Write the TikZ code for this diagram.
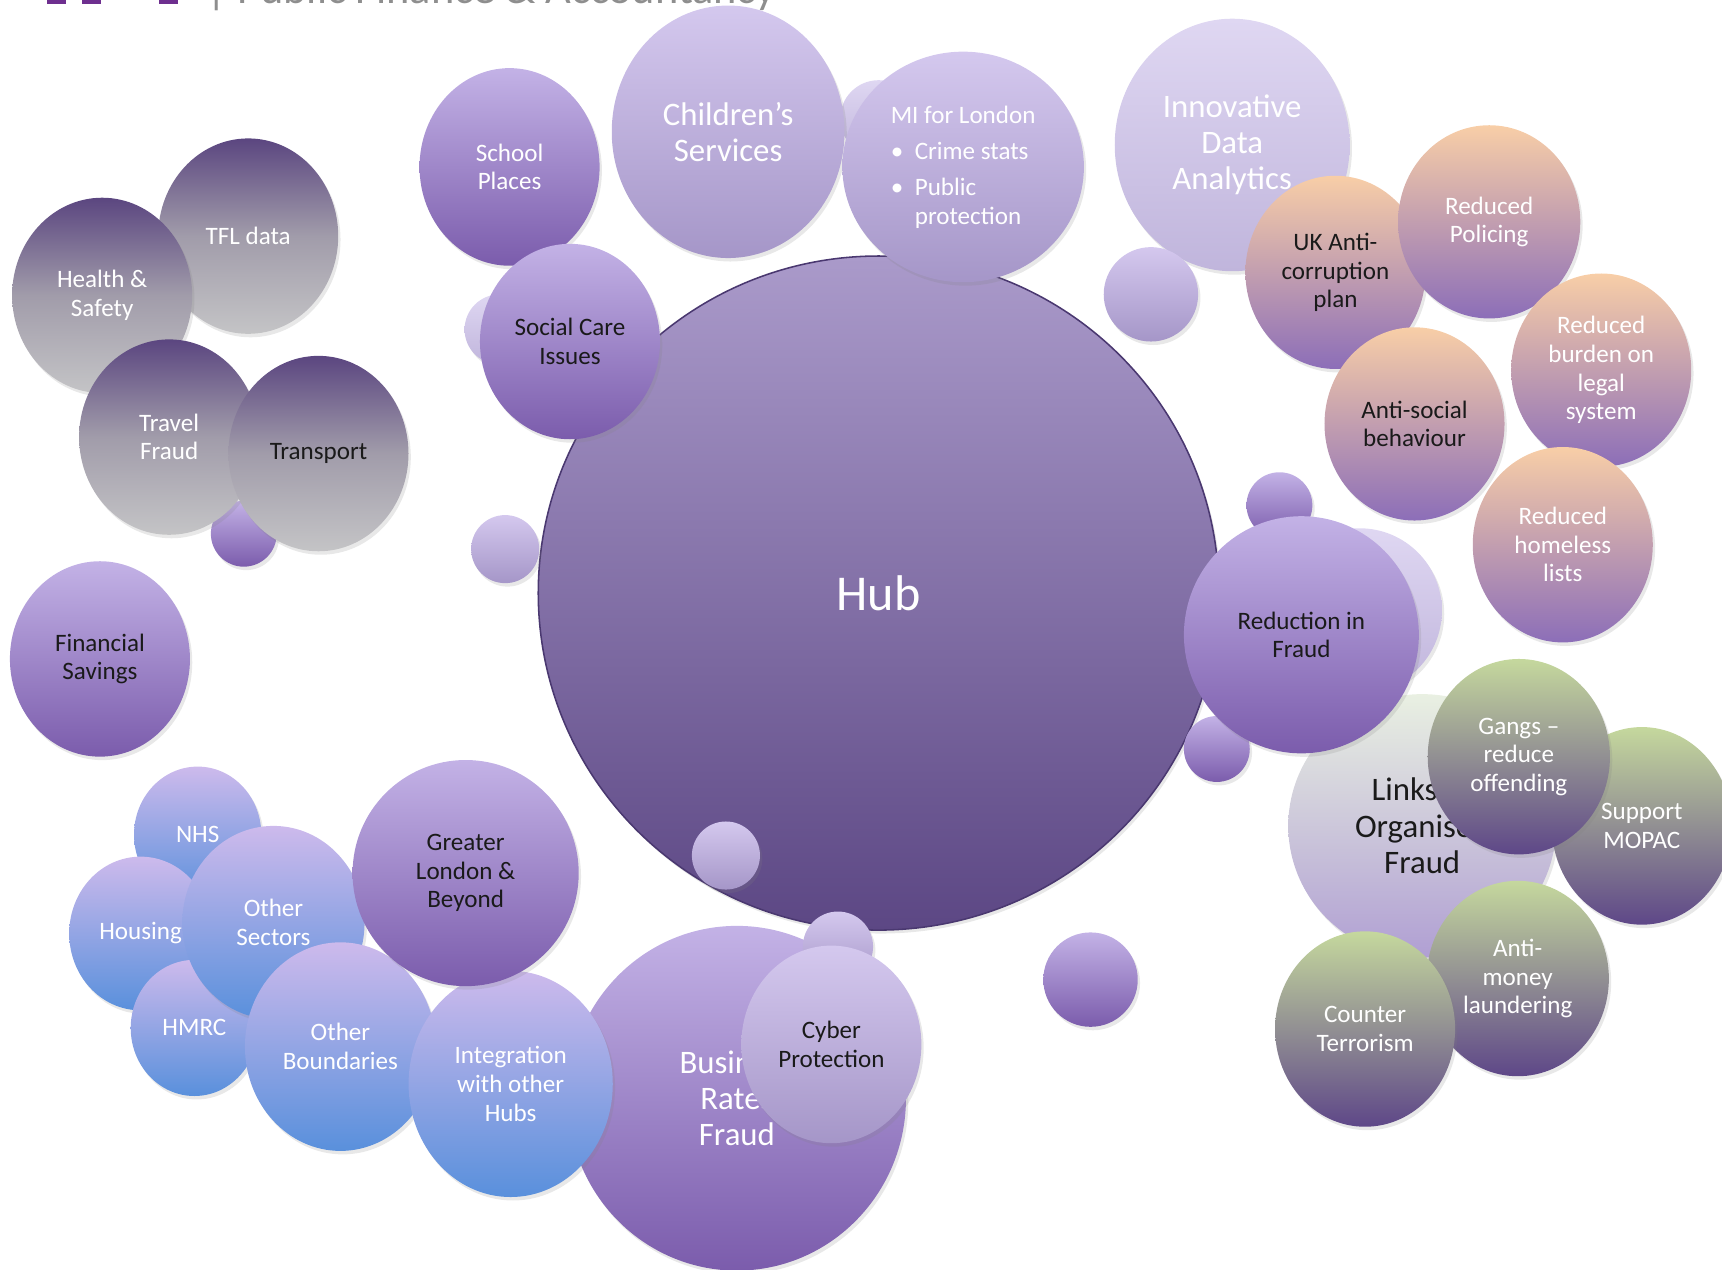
\documentclass[tikz,border=0pt]{standalone}
\usepackage{fontspec}
\setmainfont{Carlito}
\usetikzlibrary{shapes.geometric, shadows}
\definecolor{hubTop}{HTML}{AA9ACA}
\definecolor{hubBottom}{HTML}{5C4784}
\definecolor{hubLine}{HTML}{4A3870}
\definecolor{purpleTop}{HTML}{C3B2E6}
\definecolor{purpleBottom}{HTML}{7B5CAC}
\definecolor{lilacTop}{HTML}{D4C8EE}
\definecolor{lilacBottom}{HTML}{A596C8}
\definecolor{paleTop}{HTML}{DFD7F2}
\definecolor{paleBottom}{HTML}{C0B5DC}
\definecolor{peachTop}{HTML}{F8CEA7}
\definecolor{peachBottom}{HTML}{8C6EB8}
\definecolor{greenTop}{HTML}{C5D89D}
\definecolor{greenBottom}{HTML}{5E4788}
\definecolor{greyTop}{HTML}{5B4680}
\definecolor{greyMiddle}{HTML}{A19CAA}
\definecolor{greyBottom}{HTML}{C4C4C6}
\definecolor{blueTop}{HTML}{CDBAEC}
\definecolor{blueBottom}{HTML}{5990DC}
\definecolor{linksTop}{HTML}{E9F0E2}
\definecolor{linksBottom}{HTML}{B09FD3}
\definecolor{darkInk}{HTML}{1A1A1A}
\definecolor{logoPurple}{HTML}{6E2F8F}
\definecolor{headerGrey}{HTML}{8E8E8E}
\tikzstyle{diagram} = [x = 0.02cm, y = -0.02cm]
\tikzstyle{bubbleStyle} = [ellipse, inner sep = 0pt, align = center, font = \fontsize{13}{14.8}\selectfont, drop shadow = {opacity = 0.18, shadow xshift = 1.2pt, shadow yshift = -1.8pt}]
\tikzstyle{bigText} = [font = \fontsize{17}{18.8}\selectfont]
\tikzstyle{hubText} = [font = \fontsize{26}{30}\selectfont]
\tikzstyle{whiteText} = [text = white]
\tikzstyle{darkText} = [text = darkInk]
\tikzstyle{hubBubble} = [top color = hubTop, bottom color = hubBottom, draw = hubLine, line width = 0.8pt]
\tikzstyle{purpleBubble} = [top color = purpleTop, bottom color = purpleBottom]
\tikzstyle{lilacBubble} = [top color = lilacTop, bottom color = lilacBottom]
\tikzstyle{paleBubble} = [top color = paleTop, bottom color = paleBottom]
\tikzstyle{peachBubble} = [top color = peachTop, bottom color = peachBottom]
\tikzstyle{greenBubble} = [top color = greenTop, bottom color = greenBottom]
\tikzstyle{greyBubble} = [top color = greyTop, bottom color = greyBottom, middle color = greyMiddle]
\tikzstyle{blueBubble} = [top color = blueTop, bottom color = blueBottom]
\tikzstyle{linksBubble} = [top color = linksTop, bottom color = linksBottom]
\tikzstyle{headerText} = [text = headerGrey, font = \fontsize{23}{26}\selectfont, inner sep = 0pt]
\newcommand{\bubble}[6]{\node [bubbleStyle, #2, minimum width = #4 * 0.04cm, minimum height = #5 * 0.04cm] (#1) at (#3) {#6};}
\newcommand{\smallBubble}[4]{\node [bubbleStyle, #2, minimum width = #4 * 0.04cm, minimum height = #4 * 0.04cm] (#1) at (#3) {};}

\begin{document}
\begin{tikzpicture}[diagram]
  \useasboundingbox (0,0) rectangle (1568,1156);
  % cut-off page header
  \foreach \logoX in {43,75,145} {
    \fill [logoPurple] (\logoX, 0) rectangle + (17, 4);
  }
  \node [headerText, anchor = base west] (header) at (188, 3) {\textbar\ Public Finance \& Accountancy};

  % left grey group
  \bubble{tfl}{greyBubble, whiteText}{226,215}{82}{89}{TFL data}
  \bubble{health}{greyBubble, whiteText}{93,269}{82}{89}{Health \&\\Safety}
  \smallBubble{travelDot}{purpleBubble}{222,486}{30}
  \bubble{travel}{greyBubble, whiteText}{154,398}{82}{89}{Travel\\Fraud}
  \bubble{transport}{greyBubble, darkText}{290,413}{82}{89}{Transport}
  \bubble{savings}{purpleBubble, darkText}{91,600}{82}{89}{Financial\\Savings}

  % hub and top row
  \bubble{hub}{hubBubble, whiteText, hubText}{800,540}{310}{307}{Hub}
  \smallBubble{socialDot}{paleBubble}{455,300}{32}
  \bubble{school}{purpleBubble, whiteText}{464,152}{82}{90}{School\\Places}
  \bubble{social}{purpleBubble, darkText}{519,311}{82}{89}{Social Care\\Issues}
  \smallBubble{childDot}{paleBubble}{800,108}{35}
  \bubble{children}{lilacBubble, whiteText, bigText}{663,120}{106}{115}{Children's\\Services}
  \bubble{mi}{lilacBubble, whiteText, align = left}{877,152}{110}{105}{MI for London\\[4pt]
    \textbullet\hspace{6pt}Crime stats\\[4pt]
    \textbullet\hspace{6pt}Public\\
    \hphantom{\textbullet}\hspace{6pt}protection}
  \bubble{innovative}{paleBubble, whiteText, bigText}{1122,132}{107}{115}{Innovative\\Data\\Analytics}
  \smallBubble{dataDot}{lilacBubble}{1048,268}{43}

  % outcomes
  \bubble{corruption}{peachBubble, darkText}{1216,248}{82}{88}{UK Anti-\\corruption\\plan}
  \bubble{policing}{peachBubble, whiteText}{1356,202}{83}{88}{Reduced\\Policing}
  \bubble{burden}{peachBubble, whiteText}{1458,337}{82}{88}{Reduced\\burden on\\legal\\system}
  \bubble{antisocial}{peachBubble, darkText}{1288,386}{82}{88}{Anti-social\\behaviour}
  \bubble{homeless}{peachBubble, whiteText}{1423,496}{82}{89}{Reduced\\homeless\\lists}

  % fraud cluster
  \smallBubble{fraudDotA}{purpleBubble}{1165,460}{30}
  \smallBubble{fraudShade}{paleBubble}{1238,556}{75}
  \bubble{links}{linksBubble, darkText, bigText}{1295,752}{122}{120}{Links to\\Organised\\Fraud}
  \smallBubble{fraudDotB}{purpleBubble}{1108,682}{30}
  \bubble{reduction}{purpleBubble, darkText}{1185,578}{107}{108}{Reduction in\\Fraud}
  \bubble{mopac}{greenBubble, whiteText}{1495,752}{82}{90}{Support\\MOPAC}
  \bubble{gangs}{greenBubble, whiteText}{1383,689}{83}{89}{Gangs --\\reduce\\offending}
  \bubble{laundering}{greenBubble, whiteText}{1382,891}{83}{89}{Anti-\\money\\laundering}
  \bubble{terrorism}{greenBubble, whiteText}{1243,937}{82}{89}{Counter\\Terrorism}

  \smallBubble{hubDotA}{lilacBubble}{661,779}{31}
  \smallBubble{hubDotB}{purpleBubble}{993,892}{43}
  \smallBubble{leftDot}{lilacBubble}{460,500}{31}

  % bottom group
  \bubble{nhs}{blueBubble, whiteText}{180,760}{58}{62}{NHS}
  \bubble{housing}{blueBubble, whiteText}{128,850}{65}{70}{Housing}
  \bubble{hmrc}{blueBubble, whiteText}{177,936}{58}{62}{HMRC}
  \bubble{sectors}{blueBubble, whiteText}{249,840}{83}{88}{Other\\Sectors}
  \bubble{boundaries}{blueBubble, whiteText}{310,953}{87}{95}{Other\\Boundaries}
  \bubble{business}{purpleBubble, whiteText, bigText}{671,1000}{154}{157}{Business\\Rates\\Fraud}
  \bubble{integration}{blueBubble, whiteText}{465,987}{93}{103}{Integration\\with other\\Hubs}
  \bubble{london}{purpleBubble, darkText}{424,795}{103}{103}{Greater\\London \&\\Beyond}
  \smallBubble{cyberDot}{lilacBubble}{763,862}{32}
  \bubble{cyber}{lilacBubble, darkText}{757,951}{82}{90}{Cyber\\Protection}
\end{tikzpicture}
\end{document}
